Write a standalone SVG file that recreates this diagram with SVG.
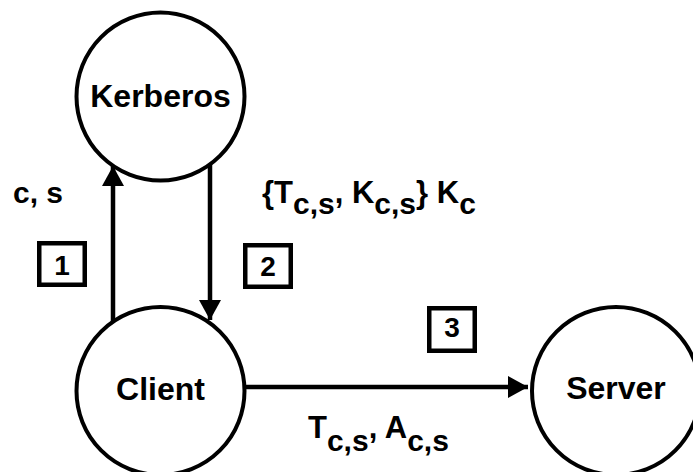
<svg xmlns="http://www.w3.org/2000/svg" width="693" height="472" viewBox="0 0 693 472">
<style>
.node{fill:#fff;stroke:#000;stroke-width:4}
.nt{font-family:"Liberation Sans",Arial,sans-serif;font-weight:bold;font-size:32px;text-anchor:middle;fill:#000}
.lbl{font-family:"Liberation Sans",Arial,sans-serif;font-weight:bold;font-size:31px;fill:#000}
.sub{font-size:30px}
.box{fill:#fff;stroke:#000;stroke-width:4.5}
.bt{font-family:"Liberation Sans",Arial,sans-serif;font-weight:bold;font-size:28px;text-anchor:middle;fill:#000}
.edge{stroke:#000;stroke-width:4.5;fill:none}
</style>
<defs>
<marker id="arr" viewBox="0 0 20 22" refX="20" refY="11" markerWidth="20" markerHeight="22" markerUnits="userSpaceOnUse" orient="auto">
<path d="M0,0 L20,11 L0,22 z" fill="#000"/>
</marker>
</defs>
<g id="connectors">
<line class="edge" x1="113" y1="322" x2="113" y2="166" marker-end="url(#arr)"/>
<line class="edge" x1="210" y1="164" x2="210" y2="320" marker-end="url(#arr)"/>
<line class="edge" x1="246" y1="387" x2="528" y2="387" marker-end="url(#arr)"/>
</g>
<g id="kerberos">
<circle class="node" cx="160.5" cy="96.5" r="84"/>
<text class="nt" x="160.5" y="107">Kerberos</text>
</g>
<g id="client">
<circle class="node" cx="160.5" cy="391" r="84"/>
<text class="nt" x="160.5" y="400">Client</text>
</g>
<g id="server">
<circle class="node" cx="616" cy="391" r="84"/>
<text class="nt" x="616" y="399">Server</text>
</g>
<g id="labels">
<text class="lbl" x="13" y="203" style="font-size:30px">c, s</text>
<text class="lbl" x="262" y="203">{T<tspan class="sub" dy="11">c,s</tspan><tspan dy="-11">, K</tspan><tspan class="sub" dy="11">c,s</tspan><tspan dy="-11">} K</tspan><tspan class="sub" dy="11">c</tspan></text>
<text class="lbl" x="308" y="438">T<tspan class="sub" dy="13">c,s</tspan><tspan dy="-13">, A</tspan><tspan class="sub" dy="13">c,s</tspan></text>
</g>
<g id="step1">
<rect class="box" x="39.25" y="243.25" width="45.5" height="41.5"/>
<text class="bt" x="62" y="275">1</text>
</g>
<g id="step2">
<rect class="box" x="245.25" y="245.25" width="45.5" height="41.5"/>
<text class="bt" x="268" y="276">2</text>
</g>
<g id="step3">
<rect class="box" x="429.25" y="308.25" width="45.5" height="42.5"/>
<text class="bt" x="452" y="337">3</text>
</g>
</svg>
